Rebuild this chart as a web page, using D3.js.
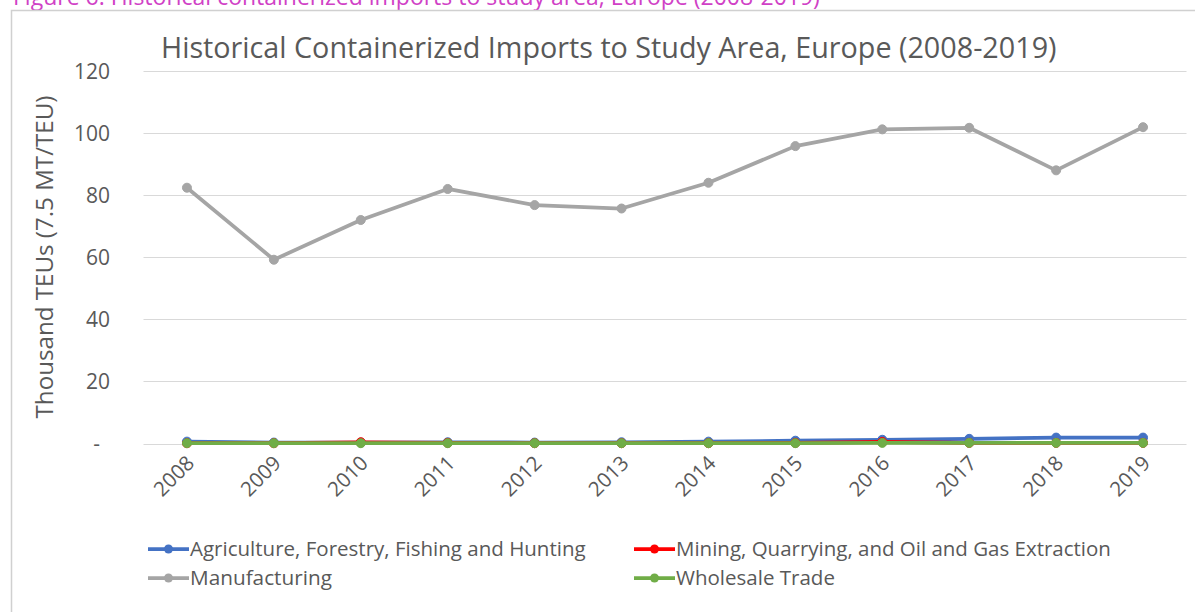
<!DOCTYPE html>
<html>
<head>
<meta charset="utf-8">
<script src="https://cdn.jsdelivr.net/npm/d3@7"></script>
<style>
  html, body { margin: 0; padding: 0; background: #ffffff; }
  svg { display: block; font-family: "Open Sans", "Noto Sans", sans-serif; }
</style>
</head>
<body>
<svg id="chart" width="1195" height="612"></svg>
<script>
// Years on the category axis
const years = ["2008", "2009", "2010", "2011", "2012", "2013", "2014", "2015", "2016", "2017", "2018", "2019"];

// Thousand TEUs by industry
const agriculture = [0.6, 0.3, 0.3, 0.4, 0.3, 0.4, 0.6, 0.9, 1.2, 1.5, 1.9, 1.9];
const mining      = [0.1, 0.1, 0.4, 0.2, 0.1, 0.1, 0.1, 0.2, 0.5, 0.2, 0.2, 0.2];
const manufacturing = [82.4, 59.2, 72.0, 82.0, 76.8, 75.7, 84.0, 95.8, 101.2, 101.7, 88.0, 101.9];
const wholesale   = [0.1, 0.1, 0.1, 0.1, 0.1, 0.1, 0.1, 0.1, 0.2, 0.2, 0.2, 0.2];

const seriesNames = [
  "Agriculture, Forestry, Fishing and Hunting",
  "Mining, Quarrying, and Oil and Gas Extraction",
  "Manufacturing",
  "Wholesale Trade"
];
const seriesColors = ["#4472C4", "#FF0000", "#A5A5A5", "#70AD47"];

const yTickValues = [0, 20, 40, 60, 80, 100, 120];
const yTickLabels = ["-", "20", "40", "60", "80", "100", "120"];

const captionText = "Figure 6: Historical containerized imports to study area, Europe (2008-2019)";
const titleText = "Historical Containerized Imports to Study Area, Europe (2008-2019)";
const yAxisTitle = "Thousand TEUs (7.5 MT/TEU)";

const series = [agriculture, mining, manufacturing, wholesale].map((values, i) => ({
  name: seriesNames[i],
  color: seriesColors[i],
  values: values
}));

const svg = d3.select("#chart");

// Resize a text element so that its rendered length equals the given width
function fitWidth(sel, width) {
  const node = sel.node();
  const fs = parseFloat(sel.attr("font-size"));
  const len = node.getComputedTextLength();
  sel.attr("font-size", (fs * width / len).toFixed(2));
}

// Document caption above the chart frame (runs off the top of the page)
const caption = svg.append("text")
  .attr("x", 13).attr("y", 5)
  .attr("font-size", 22)
  .attr("fill", "#D041C6")
  .text(captionText);
fitWidth(caption, 807);

// Chart frame
svg.append("path")
  .attr("d", "M11.5,612 V10.5 H1195")
  .attr("fill", "none")
  .attr("stroke", "#d0d0d0")
  .attr("stroke-width", 1.5);

const plot = { left: 143.5, right: 1186.5, top: 71, bottom: 443.5 };

const x = d3.scalePoint()
  .domain(years)
  .range([plot.left, plot.right])
  .padding(0.5);

const y = d3.scaleLinear()
  .domain([0, 120])
  .range([plot.bottom, plot.top]);

// Horizontal gridlines
svg.append("g")
  .selectAll("line")
  .data(yTickValues)
  .join("line")
  .attr("x1", plot.left).attr("x2", plot.right)
  .attr("y1", d => Math.round(y(d)) + 0.5)
  .attr("y2", d => Math.round(y(d)) + 0.5)
  .attr("stroke", "#d9d9d9")
  .attr("stroke-width", 1);

// Value axis
const yAxis = svg.append("g")
  .attr("transform", "translate(110,0)")
  .call(d3.axisLeft(y)
    .tickValues(yTickValues)
    .tickFormat((d, i) => yTickLabels[i])
    .tickSize(0)
    .tickPadding(0));
yAxis.select(".domain").remove();
yAxis.selectAll("text")
  .attr("font-size", 21)
  .attr("font-family", "\"Open Sans\", \"Noto Sans\", sans-serif")
  .attr("fill", "#595959")
  .attr("dy", "0.35em")
  .attr("dx", d => d === 0 ? -10 : 0);

// Category axis labels, rotated
const xAxis = svg.append("g")
  .attr("transform", `translate(0,${plot.bottom})`)
  .call(d3.axisBottom(x).tickSize(0).tickPadding(0));
xAxis.select(".domain").remove();
xAxis.selectAll("text")
  .attr("font-size", 20.5)
  .attr("font-family", "\"Open Sans\", \"Noto Sans\", sans-serif")
  .attr("fill", "#595959")
  .attr("text-anchor", "end")
  .attr("dy", null)
  .attr("y", 0)
  .attr("transform", "translate(8,21) rotate(-45)");

// Axis title
const yTitle = svg.append("text")
  .attr("transform", "translate(53,257) rotate(-90)")
  .attr("text-anchor", "middle")
  .attr("font-size", 21)
  .attr("fill", "#595959")
  .text(yAxisTitle);
fitWidth(yTitle, 323);

// Chart title
const title = svg.append("text")
  .attr("x", 161).attr("y", 58)
  .attr("font-size", 26)
  .attr("fill", "#595959")
  .text(titleText);
fitWidth(title, 896);

// Series lines and markers
const line = d3.line()
  .x((d, i) => x(years[i]))
  .y(d => y(d));

const seriesG = svg.append("g")
  .selectAll("g")
  .data(series)
  .join("g");

seriesG.append("path")
  .attr("d", d => line(d.values))
  .attr("fill", "none")
  .attr("stroke", d => d.color)
  .attr("stroke-width", 3.75)
  .attr("stroke-linejoin", "round");

seriesG.selectAll("circle")
  .data(d => d.values.map((v, i) => ({ v, i, color: d.color })))
  .join("circle")
  .attr("cx", d => x(years[d.i]))
  .attr("cy", d => y(d.v))
  .attr("r", 4.5)
  .attr("fill", d => d.color)
  .attr("stroke", d => d.color)
  .attr("stroke-width", 1);

// Legend
const legendPos = [
  { x: 148, y: 549 },
  { x: 634, y: 549 },
  { x: 148, y: 578 },
  { x: 634, y: 578 }
];
const legendWidths = [396, 435, 142, 159];

const legend = svg.append("g")
  .selectAll("g")
  .data(series)
  .join("g")
  .attr("transform", (d, i) => `translate(${legendPos[i].x},${legendPos[i].y})`);

legend.append("line")
  .attr("x1", 0).attr("x2", 41)
  .attr("y1", 0).attr("y2", 0)
  .attr("stroke", d => d.color)
  .attr("stroke-width", 3.75);

legend.append("circle")
  .attr("cx", 20.5).attr("cy", 0)
  .attr("r", 4.5)
  .attr("fill", d => d.color);

legend.append("text")
  .attr("x", 42)
  .attr("y", 0)
  .attr("dy", "0.35em")
  .attr("font-size", 19)
  .attr("fill", "#595959")
  .text(d => d.name)
  .each(function (d, i) { fitWidth(d3.select(this), legendWidths[i]); });
</script>
</body>
</html>
